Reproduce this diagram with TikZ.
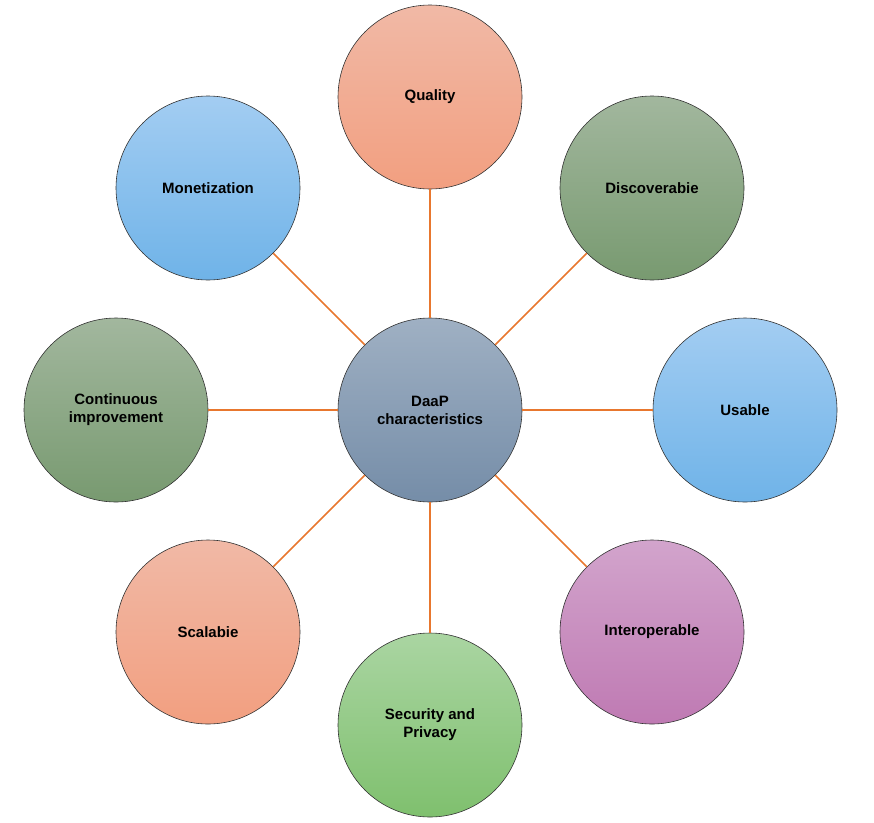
\documentclass[tikz,border=0pt]{standalone}
\usepackage{fontspec}
\setmainfont{Liberation Sans}
\begin{document}
\begin{tikzpicture}[x=1pt,y=-1pt,
  ch/.style={circle,draw=black!80,line width=0.6pt,minimum size=184pt,inner sep=0pt,
     align=center,font=\fontsize{15}{18}\selectfont\bfseries},
  salmon/.style={top color=F1B9A6,bottom color=F29F80},
  sage/.style={top color=A2B79E,bottom color=789A70},
  sky/.style={top color=A3CDF2,bottom color=6FB3E8},
  slate/.style={top color=9FB0C3,bottom color=758DA8},
  plum/.style={top color=D2A4CC,bottom color=BF7AB3},
  leaf/.style={top color=AAD5A2,bottom color=7FC06E},
  link/.style={draw=E8772E,line width=1.6pt}]
\definecolor{F1B9A6}{HTML}{F1B9A6}\definecolor{F29F80}{HTML}{F29F80}
\definecolor{A2B79E}{HTML}{A2B79E}\definecolor{789A70}{HTML}{789A70}
\definecolor{A3CDF2}{HTML}{A3CDF2}\definecolor{6FB3E8}{HTML}{6FB3E8}
\definecolor{9FB0C3}{HTML}{9FB0C3}\definecolor{758DA8}{HTML}{758DA8}
\definecolor{D2A4CC}{HTML}{D2A4CC}\definecolor{BF7AB3}{HTML}{BF7AB3}
\definecolor{AAD5A2}{HTML}{AAD5A2}\definecolor{7FC06E}{HTML}{7FC06E}
\definecolor{E8772E}{HTML}{E8772E}
\useasboundingbox (0,0) rectangle (874,822);
\node[ch,slate] (c) at (430,410) {DaaP\\characteristics};
\node[ch,salmon] (q) at (430,97) {Quality};
\node[ch,sky] (m) at (208,188) {Monetization};
\node[ch,sage] (d) at (652,188) {Discoverabie};
\node[ch,sky] (u) at (745,410) {Usable};
\node[ch,sage] (ci) at (116,410) {Continuous\\improvement};
\node[ch,salmon] (s) at (208,632) {Scalabie};
\node[ch,leaf] (sp) at (430,725) {Security and\\Privacy};
\node[ch,plum] (i) at (652,632) {Interoperable};
\foreach \n in {q,m,d,u,ci,s,sp,i}{\draw[link] (c) -- (\n);}
\end{tikzpicture}
\end{document}
